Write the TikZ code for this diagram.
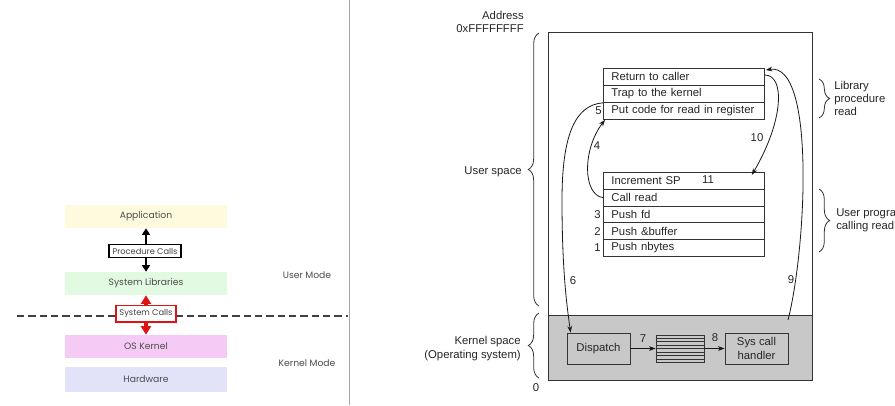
\documentclass[tikz,border=0pt]{standalone}
\usepackage{fontspec}
\setmainfont{Liberation Sans}
\newfontfamily\gothicfont{Poppins}
\usetikzlibrary{arrows.meta,decorations.pathreplacing,calc}
\definecolor{appc}{RGB}{255,250,222}
\definecolor{libc}{RGB}{226,249,226}
\definecolor{kerc}{RGB}{245,202,245}
\definecolor{hwc}{RGB}{226,226,248}
\definecolor{redc}{RGB}{222,20,20}
\definecolor{kgrey}{RGB}{200,200,200}
\newcommand\rsize{\fontsize{8.5}{10}\selectfont}
\newcommand\lsize{\gothicfont\fontsize{6.9}{8}\selectfont}
\begin{document}
\begin{tikzpicture}[x=0.75pt,y=-0.75pt,
  lay/.style={minimum width=121.5pt,minimum height=17.25pt,inner sep=0pt,font=\lsize,text=black!70},
  callbox/.style={draw,fill=white,inner sep=0pt,font=\gothicfont\fontsize{6.2}{7}\selectfont,text=black!75},
  blackarr/.style={line width=1.8pt,{Triangle[width=6pt,length=5pt]}-{Triangle[width=6pt,length=5pt]}},
  redarr/.style={draw=redc,line width=2.4pt,{Triangle[width=7.5pt,length=6.5pt]}-{Triangle[width=7.5pt,length=6.5pt]}},
  modelabel/.style={font=\lsize,text=black!70},
  rowbox/.style={draw=black!80,line width=0.6pt,fill=white,anchor=north west,text width=108.75pt,inner xsep=6pt,inner ysep=0pt,align=left,font=\rsize,text=black!85},
  kbox/.style={draw=black!80,line width=0.6pt,fill=kgrey,minimum width=47.25pt,minimum height=23.25pt,inner sep=0pt,align=center,font=\rsize,text=black!85},
  num/.style={font=\rsize,text=black!85,inner sep=0pt},
  arr/.style={draw=black!90,line width=0.6pt,-{Stealth[length=5pt,width=3.6pt]}},
  brc/.style={draw=black!80,line width=0.6pt,decorate,decoration={brace,amplitude=8pt}},
  lbl/.style={font=\rsize,text=black!85,inner sep=0pt}
]
\useasboundingbox (0,0) rectangle (895,405);
\fill[white] (0,0) rectangle (895,405);

% ---------- left diagram ----------
\node[lay,fill=appc] (app) at (146,216.5) {Application};
\node[lay,fill=libc] (lib) at (146,283.5) {System Libraries};
\node[lay,fill=kerc] (kern) at (146,346.5) {OS Kernel};
\node[lay,fill=hwc,minimum height=18.75pt] (hw) at (146,379.5) {Hardware};

\draw[blackarr] (app.south) -- (lib.north);
\draw[redarr] (lib.south) -- (kern.north);
\draw[black!75,line width=0.8pt,dash pattern=on 5.5pt off 3pt] (17,316) -- (348,316);

\node[callbox,minimum width=54pt,minimum height=9.5pt,line width=0.9pt] (pc) at (145,251) {Procedure Calls};
\node[callbox,draw=redc,minimum width=45pt,minimum height=12.5pt,line width=1pt] (sc) at (146,313.5) {System Calls};

\node[modelabel] (um) at (307,275) {User Mode};
\node[modelabel] (km) at (307,363) {Kernel Mode};

\draw[black!35,line width=0.5pt] (349,0) -- (349,405);

% ---------- right diagram ----------
\fill[kgrey] (548,315) rectangle (812,380);
\draw[draw=black!80,line width=0.7pt] (548,32) rectangle (812,380);
\draw[draw=black!80,line width=0.7pt] (548,315) -- (812,315);

\node[lbl,anchor=east,align=right] (addr) at (524,22) {Address\\0xFFFFFFFF};

\node[rowbox,minimum height=12.75pt] (r1) at (603,68) {Return to caller};
\node[rowbox,minimum height=12.75pt] (r2) at (603,85) {Trap to the kernel};
\node[rowbox,minimum height=12.75pt] (r3) at (603,102) {Put code for read in register};

\node[rowbox,minimum height=12.6pt] (u1) at (603,172) {Increment SP};
\node[rowbox,minimum height=12.6pt] (u2) at (603,188.8) {Call read};
\node[rowbox,minimum height=12.6pt] (u3) at (603,205.6) {Push fd};
\node[rowbox,minimum height=12.6pt] (u4) at (603,222.4) {Push \&buffer};
\node[rowbox,minimum height=12.6pt] (u5) at (603,239.2) {Push nbytes};

\node[num] (n11) at (708,180) {11};
\node[num] (n5) at (598.5,111) {5};
\node[num,anchor=east] (n3) at ($(u3.west)+(-2,0)$) {3};
\node[num,anchor=east] (n2) at ($(u4.west)+(-2,0)$) {2};
\node[num,anchor=east] (n1) at ($(u5.west)+(-2,0)$) {1};

\node[kbox] (disp) at (598.5,348.5) {Dispatch};
\node[kbox] (sys) at (756.5,348.5) {Sys call\\handler};
\node[draw=black!80,line width=0.6pt,fill=kgrey,minimum width=36pt,minimum height=20.25pt,inner sep=0pt] (tbl) at (680,348.5) {};
\foreach \i in {1,...,7}
  \draw[black!80,line width=0.5pt] ($(tbl.north west)!\i/8!(tbl.south west)$) -- ($(tbl.north east)!\i/8!(tbl.south east)$);

% arrows
\draw[arr] (disp.east) -- (tbl.west);
\draw[arr] (tbl.east) -- (sys.west);
\draw[arr] (r2.south west) .. controls (575,105) and (562,135) .. (562,200) .. controls (562,265) and (566,300) .. ($(disp.north west)+(4,0)$);
\draw[arr] (u2.west) .. controls (583,195) and (582,150) .. ($(r3.south west)+(2,0)$);
\draw[arr] ($(r1.north east)+(0,7)$) .. controls (785,75) and (784,120) .. ($(u1.north east)+(-13,3)$);
\coordinate (c9) at (788,320);
\draw[arr] (c9) .. controls (806,250) and (816,62) .. ($(r1.north east)+(1,2)$);

\node[num] (n4) at (597,146) {4};
\node[num] (n6) at (573,281) {6};
\node[num] (n7) at (643,339) {7};
\node[num] (n8) at (715,338) {8};
\node[num] (n9) at (791,280) {9};
\node[num] (n10) at (757,138) {10};

% braces
\draw[brc] (539,306) -- (539,33);
\draw[brc] (539,378) -- (539,313);
\draw[brc] (819,79) -- (819,118);
\draw[brc] (819,189) -- (819,252);

\node[lbl,anchor=east] (us) at (522,172) {User space};
\node[lbl,anchor=east,align=right] (ks) at (521,348.5) {Kernel space\\(Operating system)};
\node[num] (zero) at (536,388) {0};
\node[lbl,anchor=west,align=left] (lp) at (834,98.5) {Library\\procedure\\read};
\node[lbl,anchor=west,align=left] (up) at (836,220) {User program\\calling read};
\end{tikzpicture}
\end{document}
